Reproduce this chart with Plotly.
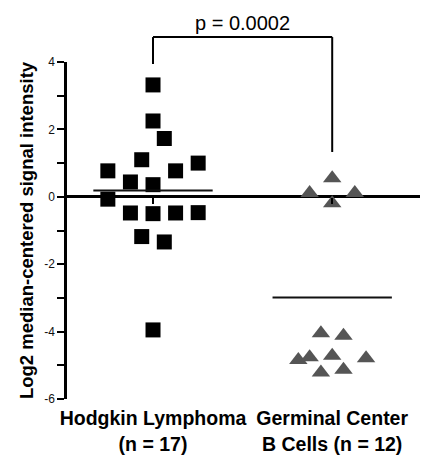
import plotly.graph_objects as go

# ---- data ----
categories = ["Hodgkin Lymphoma<br>(n = 17)", "Germinal Center<br>B Cells (n = 12)"]
cat_pos = [0, 1]

hl_values = [3.32, 2.25, 1.73, 1.10, 0.77, 1.00, 0.77, 0.44, 0.36,
             -0.07, -0.48, -0.50, -0.48, -0.47, -1.18, -1.34, -3.95]
hl_offset_steps = [0, 0, 1, -1, -4, 4, 2, -2, 0, -4, -2, 0, 2, 4, -1, 1, 0]

gcb_values = [0.55, 0.11, 0.11, -0.19, -4.05, -4.12, -4.84, -4.76, -4.72,
              -4.79, -5.21, -5.13]
gcb_offset_steps = [0, -2, 2, 0, -1, 1, -3, -2, 0, 3, -1, 1]

group_means = [0.19, -2.99]
p_label = "p = 0.0002"

y_major_ticks = [-6, -4, -2, 0, 2, 4]
y_minor_ticks = [-5, -3, -1, 1, 3]

# ---- layout constants ----
STEP = 0.063      # horizontal jitter step (x units)
HALF = 0.333      # half width of mean line (x units)
FONT = "Liberation Sans, Arial, sans-serif"

hl_x = [cat_pos[0] + s * STEP for s in hl_offset_steps]
gcb_x = [cat_pos[1] + s * STEP for s in gcb_offset_steps]
bold_labels = ["<b>" + t.replace("<br>", "</b><br><b>") + "</b>" for t in categories]

fig = go.Figure()

fig.add_trace(go.Scatter(
    x=hl_x, y=hl_values, mode="markers",
    marker=dict(symbol="square", size=15, color="#000000"),
    showlegend=False, cliponaxis=False))

fig.add_trace(go.Scatter(
    x=gcb_x, y=gcb_values, mode="markers",
    marker=dict(symbol="triangle-up", size=16, color="#555555"),
    showlegend=False, cliponaxis=False))

# mean lines (on overlaying axis so it is created)
mx, my = [], []
for c, m in zip(cat_pos, group_means):
    mx += [c - HALF, c + HALF, None]
    my += [m, m, None]
fig.add_trace(go.Scatter(
    x=mx, y=my, mode="lines", xaxis="x2",
    line=dict(color="#111111", width=2),
    showlegend=False))

# significance bracket
shape_line = dict(color="#000000", width=2)
fig.add_shape(type="line", xref="x", yref="paper", x0=cat_pos[0], x1=cat_pos[0],
              y0=0.994, y1=1.074, line=shape_line)
fig.add_shape(type="line", xref="x", yref="paper", x0=cat_pos[0], x1=cat_pos[1],
              y0=1.074, y1=1.074, line=shape_line)
fig.add_shape(type="line", xref="x", yref="paper", x0=cat_pos[1], x1=cat_pos[1],
              y0=0.733, y1=1.074, line=shape_line)
fig.add_annotation(x=(cat_pos[0] + cat_pos[1]) / 2, y=1.116, xref="x", yref="paper",
                   text=p_label, showarrow=False, yanchor="middle",
                   font=dict(family=FONT, size=20, color="#000000"))

fig.update_layout(
    width=422, height=455,
    margin=dict(l=67, r=2, t=62, b=56, autoexpand=False),
    paper_bgcolor="white", plot_bgcolor="white",
    font=dict(family=FONT, color="#000000"),
    xaxis=dict(
        range=[-0.48, 1.49], showgrid=False, zeroline=False, showline=False,
        automargin=False,
        tickvals=cat_pos, ticktext=bold_labels, ticks="outside", ticklen=2,
        tickcolor="rgba(0,0,0,0)",
        tickfont=dict(family=FONT, size=19.5, color="#000000"),
        fixedrange=True),
    xaxis2=dict(
        overlaying="x", matches="x", anchor="free", position=0.6, side="bottom",
        showgrid=False, zeroline=False, showline=False, automargin=False,
        tickvals=cat_pos, ticks="outside", ticklen=6, tickwidth=2,
        tickcolor="#000000", showticklabels=False),
    yaxis=dict(
        range=[-6, 4], showgrid=False, automargin=False,
        zeroline=True, zerolinecolor="#000000", zerolinewidth=2.5,
        showline=True, linecolor="#000000", linewidth=2.5,
        tickvals=y_major_ticks, ticktext=[str(v) for v in y_major_ticks],
        ticks="outside", ticklen=7, tickwidth=2, tickcolor="#000000",
        tickfont=dict(family=FONT, size=12, color="#111111"),
        minor=dict(tickvals=y_minor_ticks, ticks="outside", ticklen=7,
                   tickwidth=2, tickcolor="#000000", showgrid=False),
        title=dict(text="<b>Log2 median-centered signal intensity</b>",
                   font=dict(family=FONT, size=18.5, color="#000000"),
                   standoff=6),
        fixedrange=True),
)

fig.write_html("out.html")
